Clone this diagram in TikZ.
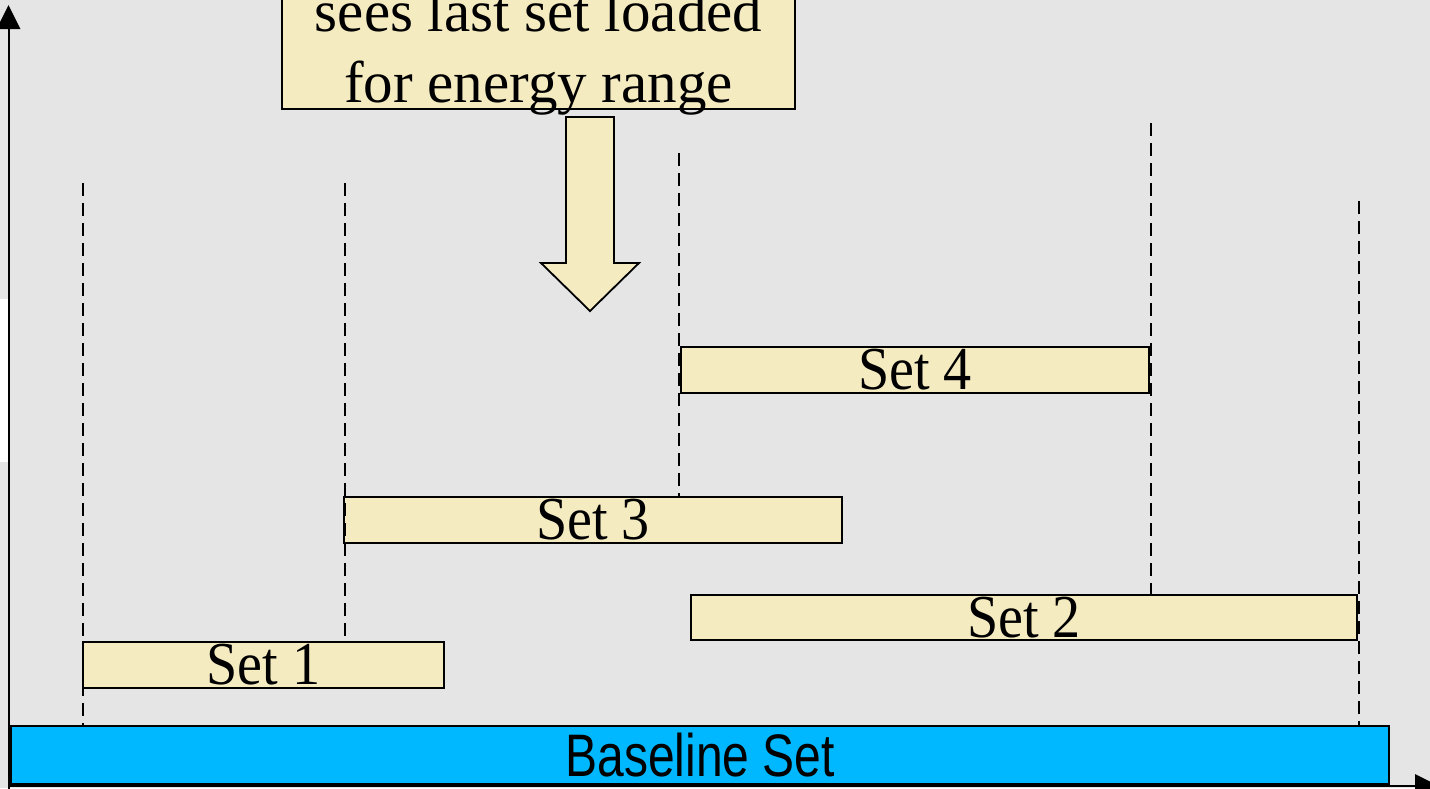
\documentclass[tikz,border=0pt]{standalone}
\usepackage{fontspec}
\setmainfont{Liberation Serif}
\newfontfamily\arialf{Liberation Sans}
\definecolor{bg}{HTML}{E5E5E5}
\definecolor{pale}{HTML}{F5EBC1}
\definecolor{sky}{HTML}{00B8FF}
\begin{document}
\begin{tikzpicture}[x=1pt,y=-1pt,
  setbox/.style={draw=black, line width=2pt, fill=pale, inner sep=0pt, anchor=north west,
    font=\fontsize{61}{72}\selectfont},
  basebox/.style={draw=black, line width=2.2pt, fill=sky, inner sep=0pt, anchor=north west,
    font=\arialf\fontsize{60}{72}\selectfont},
  notebox/.style={draw=black, line width=2pt, fill=pale, inner xsep=0pt, inner ysep=7pt,
    text depth=0pt, align=center, anchor=south, font=\fontsize{59}{71}\selectfont},
  dashline/.style={line width=1.8pt, dash pattern=on 13pt off 7pt},
  axisline/.style={line width=2pt},
  axishead/.style={fill=black},
  blockarrow/.style={draw=black, line width=1.8pt, fill=pale, line join=miter}]
\useasboundingbox (0,0) rectangle (1430,788);
\fill[bg] (0,0) rectangle (1430,788);
\fill[white] (0,299) rectangle (8,462);

% dashed guide lines
\coordinate (d1) at (83,183);
\coordinate (d2) at (345,183);
\coordinate (d3) at (679,153);
\coordinate (d4) at (1151,123);
\coordinate (d5) at (1359,201);

% boxes
\node[basebox, minimum width=1378pt, minimum height=58pt] (base) at (10,725) {\scalebox{0.8}[1]{Baseline Set}};
\node[setbox, minimum width=361pt, minimum height=46pt] (set1) at (82,641) {\scalebox{0.92}[1]{Set 1}};
\node[setbox, minimum width=666pt, minimum height=45pt] (set2) at (690,594) {\scalebox{0.92}[1]{Set 2}};
\node[setbox, minimum width=498pt, minimum height=46pt] (set3) at (343,496) {\scalebox{0.92}[1]{Set 3}};
\node[setbox, minimum width=468pt, minimum height=46pt] (set4) at (680,346) {\scalebox{0.92}[1]{Set 4}};

\draw[dashline] (d1) -- (d1 |- base.north);
\draw[dashline] (d2) -- (d2 |- set1.north);
\draw[dashline] (d3) -- (d3 |- set3.north);
\draw[dashline] (d4) -- (d4 |- set2.north);
\draw[dashline] (d5) -- (d5 |- base.north);

% note box and block arrow
\node[notebox, minimum width=513pt] (note) at (538.5,110) {sees last set loaded\\for energy range};
\coordinate (tip) at (590,311);
\draw[blockarrow] (566,117) -- (614,117) -- (614,263) -- (639,263) -- (tip) -- (541,263) -- (566,263) -- cycle;

% axes
\coordinate (origin) at (8.5,786);
\coordinate (ytop) at (8.5,5);
\coordinate (xend) at (1439,786);
\draw[axisline] (8.5,790) -- (origin) -- (8.5,28);
\draw[axisline] (origin) -- (1416,786);
\fill[axishead] (ytop) -- (20.5,29) -- (-3.5,29) -- cycle;
\fill[axishead] (xend) -- (1415,774) -- (1415,798) -- cycle;
\end{tikzpicture}
\end{document}
